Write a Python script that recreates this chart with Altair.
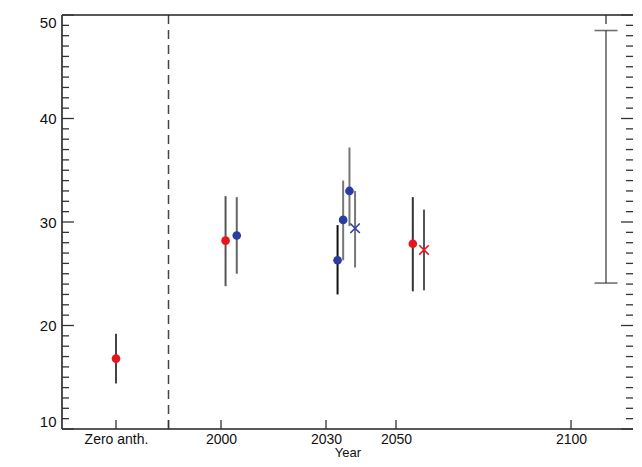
import altair as alt
import pandas as pd

# ---- data ----
x_years = [1970, 2001.3, 2004.5, 2033.3, 2034.9, 2036.7, 2038.3, 2054.8, 2058.0]
centers = [16.8, 28.2, 28.7, 26.3, 30.2, 33.0, 29.4, 27.9, 27.3]
lows = [14.4, 23.8, 25.0, 23.0, 26.3, 29.6, 25.6, 23.3, 23.4]
highs = [19.2, 32.5, 32.4, 29.7, 34.0, 37.2, 33.0, 32.4, 31.2]
marker_colors = ["#e8161c", "#e8161c", "#2b3da3", "#2b3da3", "#2b3da3",
                 "#2b3da3", "#2b3da3", "#e8161c", "#e8161c"]
markers = ["circle", "circle", "circle", "circle", "circle", "circle", "x", "circle", "x"]
bar_colors = ["#444444", "#555555", "#666666", "#111111", "#777777",
              "#777777", "#777777", "#333333", "#555555"]

range_x = [2110]
range_lo = [24.1]
range_hi = [48.5]

divider_x = [1985]
tick_values = [1970, 1985, 2000, 2030, 2050, 2100]
tick_labels = ["Zero anth.", "", "2000", "2030", "2050", "2100"]
top_ticks = [2110]
y_major = [10, 20, 30, 40, 50]
y_minor = [v for v in range(10, 51) if v % 10 != 0]

W, H = 571, 414
FONT = "Liberation Sans"

pts = pd.DataFrame({"x": x_years, "y": centers, "lo": lows, "hi": highs,
                    "mc": marker_colors, "m": markers, "bc": bar_colors})
circles = pts[pts.m == "circle"]
crosses = pts[pts.m == "x"]

xs = alt.Scale(domain=[1954.57, 2117.71], nice=False, zero=False)
ys = alt.Scale(domain=[10, 50], nice=False, zero=False)

label_expr = " : ".join(
    f"datum.value == {v} ? '{l}'" for v, l in zip(tick_values, tick_labels)
) + " : ''"

x_axis = alt.Axis(values=tick_values, labelExpr=label_expr, ticks=False, domain=False,
                  grid=False, labelFontSize=14, labelPadding=3, labelFlush=False,
                  labelColor="#111", title="Year", titleFontSize=13,
                  titleFontWeight="normal", titleColor="#111",
                  titleY=30, titleBaseline="bottom")
y_axis = alt.Axis(values=y_major, ticks=False, domain=False, grid=False,
                  labelFontSize=15, labelPadding=6, labelFlush=True, labelColor="#111",
                  title="Global annual mean surface O\u2083 / ppbv", titleFontSize=16,
                  titleFontWeight="normal", titleColor="#222", titleX=-44, titleY=H / 2,
                  titleAngle=270, titleAlign="center", titleBaseline="middle")

bars = alt.Chart(pts).mark_rule(strokeWidth=2).encode(
    x=alt.X("x:Q", scale=xs, axis=x_axis),
    y=alt.Y("lo:Q", scale=ys, axis=y_axis),
    y2="hi:Q",
    color=alt.Color("bc:N", scale=None),
)

dots = alt.Chart(circles).mark_point(shape="circle", filled=True, size=75, opacity=1).encode(
    x=alt.X("x:Q", scale=xs), y=alt.Y("y:Q", scale=ys),
    color=alt.Color("mc:N", scale=None),
)

xmarks = alt.Chart(crosses).mark_point(
    shape="M-1,-1L1,1M-1,1L1,-1", filled=False, size=90, strokeWidth=1.6, opacity=1
).encode(
    x=alt.X("x:Q", scale=xs), y=alt.Y("y:Q", scale=ys),
    color=alt.Color("mc:N", scale=None),
)

rng = pd.DataFrame({"x": range_x, "lo": range_lo, "hi": range_hi})
range_bar = alt.Chart(rng).mark_errorbar(
    ticks={"size": 23, "thickness": 1.6, "color": "#333"}, color="#333", thickness=1.2
).encode(
    x=alt.X("x:Q", scale=xs), y=alt.Y("lo:Q", scale=ys, title=None), y2="hi:Q"
)

divider = alt.Chart(pd.DataFrame({"d": divider_x})).mark_rule(
    color="#444", strokeWidth=1.5, strokeDash=[9, 6]
).encode(x=alt.X("d:Q", scale=xs), y=alt.value(0), y2=alt.value(H))

frame_style = dict(color="#222", strokeWidth=1.6)
frame_top = alt.Chart().mark_rule(**frame_style).encode(
    x=alt.value(0), x2=alt.value(W), y=alt.value(0))
frame_bottom = alt.Chart().mark_rule(**frame_style).encode(
    x=alt.value(0), x2=alt.value(W), y=alt.value(H))
frame_left = alt.Chart().mark_rule(**frame_style).encode(
    x=alt.value(0), y=alt.value(0), y2=alt.value(H))

ymaj = pd.DataFrame({"v": y_major})
ymin = pd.DataFrame({"v": y_minor})
tick_style = dict(color="#333", strokeWidth=1.3)
yl_major = alt.Chart(ymaj).mark_rule(**tick_style).encode(
    y=alt.Y("v:Q", scale=ys), x=alt.value(0), x2=alt.value(12))
yl_minor = alt.Chart(ymin).mark_rule(**tick_style).encode(
    y=alt.Y("v:Q", scale=ys), x=alt.value(0), x2=alt.value(7))
yr_major = alt.Chart(ymaj).mark_rule(**tick_style).encode(
    y=alt.Y("v:Q", scale=ys), x=alt.value(W - 12), x2=alt.value(W))
yr_minor = alt.Chart(ymin).mark_rule(**tick_style).encode(
    y=alt.Y("v:Q", scale=ys), x=alt.value(W - 7), x2=alt.value(W))
xb_ticks = alt.Chart(pd.DataFrame({"t": tick_values})).mark_rule(**tick_style).encode(
    x=alt.X("t:Q", scale=xs), y=alt.value(H - 9), y2=alt.value(H))
xt_ticks = alt.Chart(pd.DataFrame({"t": top_ticks})).mark_rule(**tick_style).encode(
    x=alt.X("t:Q", scale=xs), y=alt.value(0), y2=alt.value(9))

chart = alt.layer(
    bars, divider, range_bar, frame_top, frame_bottom, frame_left,
    yl_major, yl_minor, yr_major, yr_minor, xb_ticks, xt_ticks, dots, xmarks
).properties(
    width=W, height=H,
    autosize=alt.AutoSizeParams(type="none"),
    padding={"left": 54, "top": 7, "right": 1, "bottom": 30},
).configure(font=FONT).configure_view(stroke=None)

chart.save("out.html", embed_options={"renderer": "svg", "actions": False})
